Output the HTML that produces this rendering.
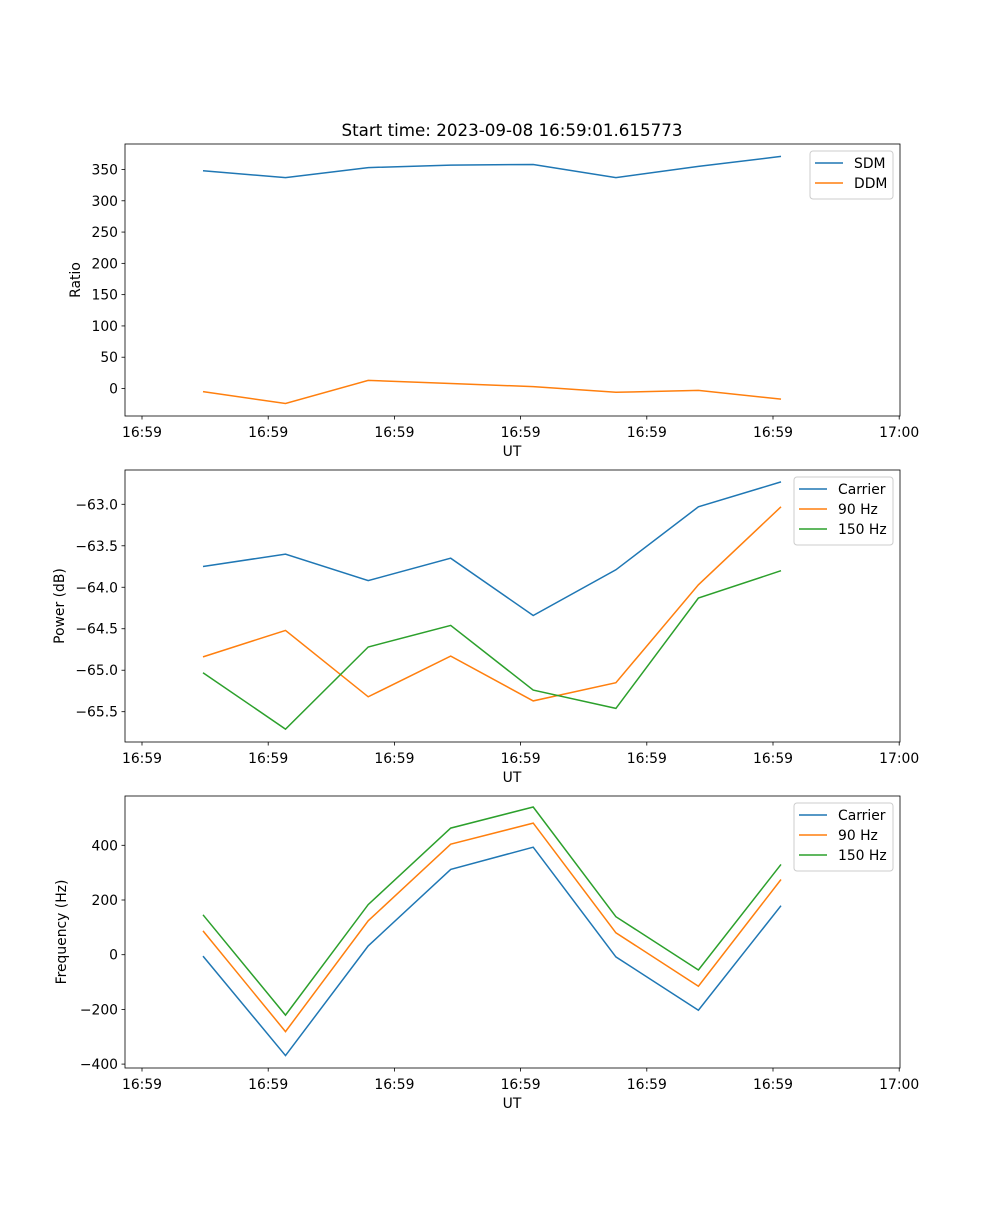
<!DOCTYPE html>
<html><head><meta charset="utf-8"><style>
body{margin:0;background:#fff}
svg text{font-family:"DejaVu Sans","Liberation Sans",sans-serif;fill:#000}
</style></head><body>
<svg id="fig" width="1000" height="1200" xmlns="http://www.w3.org/2000/svg">
<rect width="1000" height="1200" fill="#fff"/>
<text x="512" y="136" font-size="16.7" text-anchor="middle">Start time: 2023-09-08 16:59:01.615773</text>
</svg>
<script>
// time offsets (s after 16:59:00)
const times = [4.83, 11.37, 17.92, 24.46, 31.0, 37.55, 44.09, 50.63];
const xTickSecs = [0, 10, 20, 30, 40, 50, 60];
const xTickLabels = ['16:59','16:59','16:59','16:59','16:59','16:59','17:00'];
const sdm = [348, 337, 353, 357, 358, 337, 355, 371];
const ddm = [-5, -24, 13, 8, 3, -6, -3, -17];
const ratioTicks = [0, 50, 100, 150, 200, 250, 300, 350];
const powCarrier = [-63.75, -63.60, -63.92, -63.65, -64.34, -63.79, -63.03, -62.73];
const pow90 = [-64.84, -64.52, -65.32, -64.83, -65.37, -65.15, -63.97, -63.03];
const pow150 = [-65.03, -65.71, -64.72, -64.46, -65.24, -65.46, -64.13, -63.80];
const powTicks = [-63.0, -63.5, -64.0, -64.5, -65.0, -65.5];
const frqCarrier = [-5, -369, 32, 312, 393, -8, -203, 179];
const frq90 = [87, -281, 124, 404, 481, 80, -115, 275];
const frq150 = [146, -221, 183, 463, 540, 139, -56, 330];
const frqTicks = [-400, -200, 0, 200, 400];

const NS='http://www.w3.org/2000/svg';
const svg=document.getElementById('fig');
function mk(tag,attrs,parent){const e=document.createElementNS(NS,tag);for(const k in attrs)e.setAttribute(k,attrs[k]);(parent||svg).appendChild(e);return e;}
const X0=125,X1=900;
const xs=s=>142+s*12.62;
const C=['#1f77b4','#ff7f0e','#2ca02c'];

function panel(key,top,bot,y0v,y0p,y1v,y1p,ticks,fmt,ylabel,ylabX,series,names,legW){
  const ys=v=>y0p+(v-y0v)*(y1p-y0p)/(y1v-y0v);
  const g=mk('g',{});
  
  
  series.forEach((arr,si)=>{
    const p=mk('polyline',{points:arr.map((v,i)=>xs(times[i]).toFixed(1)+','+ys(v).toFixed(1)).join(' '),fill:'none',stroke:C[si],'stroke-width':1.5},g);
    
    
  });
  const fr=mk('rect',{x:X0,y:top,width:X1-X0,height:bot-top,fill:'none',stroke:'#000','stroke-width':0.8},g);
  
  
  xTickSecs.forEach((s,i)=>{
    mk('line',{x1:xs(s),x2:xs(s),y1:bot,y2:bot+3.5,stroke:'#000','stroke-width':0.8},g);
    const t=mk('text',{x:xs(s),y:bot+21,'font-size':13.9,'text-anchor':'middle'},g);
    
    
    t.textContent=xTickLabels[i];
  });
  const xl=mk('text',{x:512,y:bot+40,'font-size':13.9,'text-anchor':'middle'},g);
  
  
  xl.textContent='UT';
  ticks.forEach(v=>{
    mk('line',{x1:X0-3.5,x2:X0,y1:ys(v),y2:ys(v),stroke:'#000','stroke-width':0.8},g);
    const t=mk('text',{x:X0-7,y:ys(v)+5,'font-size':13.9,'text-anchor':'end'},g);
    
    
    t.textContent=fmt(v);
  });
  const yl=mk('text',{x:ylabX,y:(top+bot)/2,'font-size':13.9,'text-anchor':'middle',transform:`rotate(-90 ${ylabX} ${(top+bot)/2})`},g);
  
  
  yl.textContent=ylabel;
  const lx=893-legW, ly=top+7, lh=names.length*20+8;
  const lg=mk('g',{},g);
  
  
  mk('rect',{x:lx,y:ly,width:legW,height:lh,rx:3,fill:'#fff','fill-opacity':0.8,stroke:'#ccc'},lg);
  names.forEach((n,i)=>{
    const yy=ly+12+i*20;
    mk('line',{x1:lx+5,x2:lx+33,y1:yy,y2:yy,stroke:C[i],'stroke-width':1.5},lg);
    const t=mk('text',{x:lx+44,y:yy+5,'font-size':13.9},lg);
    
    
    t.textContent=n;
  });
}
const mf=v=>v<0?'\u2212'+Math.abs(v):String(v);
panel('ratio',144,416,0,388.5,350,169.5,ratioTicks,mf,'Ratio',80,[sdm,ddm],['SDM','DDM'],83);
panel('power',470,742,-63.0,504.3,-65.5,711.7,powTicks,v=>'\u2212'+Math.abs(v).toFixed(1),'Power (dB)',64,[powCarrier,pow90,pow150],['Carrier','90 Hz','150 Hz'],99);
panel('freq',796,1068,0,954.7,400,845.3,frqTicks,mf,'Frequency (Hz)',66,[frqCarrier,frq90,frq150],['Carrier','90 Hz','150 Hz'],99);
</script>
</body></html>
